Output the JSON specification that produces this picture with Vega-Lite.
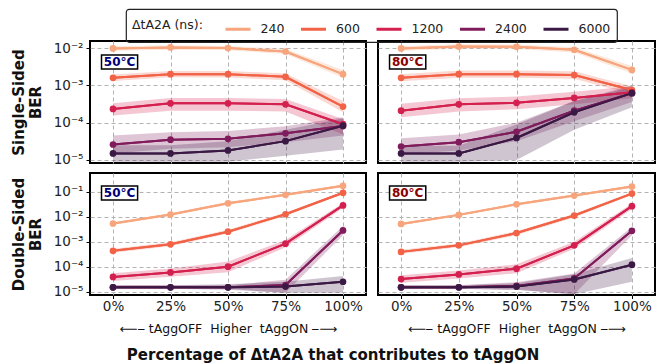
{
  "$schema": "https://vega.github.io/schema/vega-lite/v6.json",
  "padding": {"left": 10, "top": 8, "right": 2, "bottom": 2},
  "config": {
    "font": "DejaVu Sans",
    "view": {"stroke": "black", "strokeWidth": 2},
    "axis": {"domain": false, "gridDash": [4, 3], "gridColor": "#b3b3b3", "gridWidth": 1, "tickColor": "black", "labelFont": "DejaVu Sans", "labelFontSize": 13.5, "labelColor": "#222", "titleFont": "DejaVu Sans", "titleColor": "#111"},
    "legend": {"orient": "none", "legendX": 36, "legendY": -32, "direction": "horizontal", "titleOrient": "left", "strokeColor": "#222", "strokeWidth": 1.2, "cornerRadius": 3, "padding": 6, "symbolType": "stroke", "symbolStrokeWidth": 3, "symbolSize": 625, "symbolOpacity": 1, "labelFontSize": 12.5, "titleFontSize": 12.5, "titleFontWeight": "normal", "titleFont": "DejaVu Sans", "labelFont": "DejaVu Sans", "columnPadding": 9.5, "titlePadding": 21, "labelColor": "#222", "titleColor": "#222", "labelOffset": 8.5}
  },
  "title": {"text": "Percentage of ΔtA2A that contributes to tAggON", "orient": "bottom", "fontSize": 15, "fontWeight": "bold", "font": "DejaVu Sans", "offset": 12, "anchor": "middle", "color": "#111"},
  "data": {"values": [
    {"panel":"S50","pct":0,"dta2a":240,"ber":0.0098,"lo":0.0085,"hi":0.0112},
    {"panel":"S50","pct":25,"dta2a":240,"ber":0.0104,"lo":0.0091,"hi":0.0119},
    {"panel":"S50","pct":50,"dta2a":240,"ber":0.0100,"lo":0.0088,"hi":0.0114},
    {"panel":"S50","pct":75,"dta2a":240,"ber":0.0081,"lo":0.0069,"hi":0.0095},
    {"panel":"S50","pct":100,"dta2a":240,"ber":0.0020,"lo":0.0016,"hi":0.0026},
    {"panel":"S50","pct":0,"dta2a":600,"ber":0.0016,"lo":0.00132,"hi":0.00196},
    {"panel":"S50","pct":25,"dta2a":600,"ber":0.0020,"lo":0.00165,"hi":0.00245},
    {"panel":"S50","pct":50,"dta2a":600,"ber":0.0020,"lo":0.00163,"hi":0.00242},
    {"panel":"S50","pct":75,"dta2a":600,"ber":0.0017,"lo":0.00137,"hi":0.0021},
    {"panel":"S50","pct":100,"dta2a":600,"ber":0.00027,"lo":0.00019,"hi":0.00038},
    {"panel":"S50","pct":0,"dta2a":1200,"ber":0.000234,"lo":0.000155,"hi":0.00033},
    {"panel":"S50","pct":25,"dta2a":1200,"ber":0.00033,"lo":0.00021,"hi":0.00046},
    {"panel":"S50","pct":50,"dta2a":1200,"ber":0.00033,"lo":0.00021,"hi":0.00046},
    {"panel":"S50","pct":75,"dta2a":1200,"ber":0.00031,"lo":0.0002,"hi":0.00043},
    {"panel":"S50","pct":100,"dta2a":1200,"ber":0.000091,"lo":0.000048,"hi":0.000125},
    {"panel":"S50","pct":0,"dta2a":2400,"ber":0.000026,"lo":0.000015,"hi":0.000045},
    {"panel":"S50","pct":25,"dta2a":2400,"ber":0.000035,"lo":0.00002,"hi":0.000055},
    {"panel":"S50","pct":50,"dta2a":2400,"ber":0.000037,"lo":0.000022,"hi":0.00006},
    {"panel":"S50","pct":75,"dta2a":2400,"ber":0.000052,"lo":0.00003,"hi":0.00008},
    {"panel":"S50","pct":100,"dta2a":2400,"ber":0.000081,"lo":0.000045,"hi":0.00014},
    {"panel":"S50","pct":0,"dta2a":6000,"ber":0.000015,"lo":0.000009,"hi":0.000025},
    {"panel":"S50","pct":25,"dta2a":6000,"ber":0.000015,"lo":0.000009,"hi":0.000025},
    {"panel":"S50","pct":50,"dta2a":6000,"ber":0.000018,"lo":0.000009,"hi":0.000032},
    {"panel":"S50","pct":75,"dta2a":6000,"ber":0.000032,"lo":0.000013,"hi":0.000065},
    {"panel":"S50","pct":100,"dta2a":6000,"ber":0.000083,"lo":0.000019,"hi":0.00013},

    {"panel":"S80","pct":0,"dta2a":240,"ber":0.0098,"lo":0.0085,"hi":0.0113},
    {"panel":"S80","pct":25,"dta2a":240,"ber":0.011,"lo":0.0096,"hi":0.0126},
    {"panel":"S80","pct":50,"dta2a":240,"ber":0.0108,"lo":0.0094,"hi":0.0124},
    {"panel":"S80","pct":75,"dta2a":240,"ber":0.009,"lo":0.0076,"hi":0.0106},
    {"panel":"S80","pct":100,"dta2a":240,"ber":0.0026,"lo":0.0021,"hi":0.0033},
    {"panel":"S80","pct":0,"dta2a":600,"ber":0.0016,"lo":0.0013,"hi":0.002},
    {"panel":"S80","pct":25,"dta2a":600,"ber":0.002,"lo":0.0016,"hi":0.0025},
    {"panel":"S80","pct":50,"dta2a":600,"ber":0.002,"lo":0.0016,"hi":0.0025},
    {"panel":"S80","pct":75,"dta2a":600,"ber":0.0019,"lo":0.0015,"hi":0.0024},
    {"panel":"S80","pct":100,"dta2a":600,"ber":0.00075,"lo":0.00058,"hi":0.00095},
    {"panel":"S80","pct":0,"dta2a":1200,"ber":0.00021,"lo":0.00014,"hi":0.00032},
    {"panel":"S80","pct":25,"dta2a":1200,"ber":0.00031,"lo":0.0002,"hi":0.00045},
    {"panel":"S80","pct":50,"dta2a":1200,"ber":0.00034,"lo":0.00023,"hi":0.0005},
    {"panel":"S80","pct":75,"dta2a":1200,"ber":0.00046,"lo":0.00031,"hi":0.00068},
    {"panel":"S80","pct":100,"dta2a":1200,"ber":0.00065,"lo":0.00045,"hi":0.00095},
    {"panel":"S80","pct":0,"dta2a":2400,"ber":0.000023,"lo":0.000014,"hi":0.000038},
    {"panel":"S80","pct":25,"dta2a":2400,"ber":0.00003,"lo":0.000018,"hi":0.000048},
    {"panel":"S80","pct":50,"dta2a":2400,"ber":0.000057,"lo":0.000032,"hi":0.0001},
    {"panel":"S80","pct":75,"dta2a":2400,"ber":0.00021,"lo":0.00011,"hi":0.00038},
    {"panel":"S80","pct":100,"dta2a":2400,"ber":0.00062,"lo":0.00036,"hi":0.001},
    {"panel":"S80","pct":0,"dta2a":6000,"ber":0.000015,"lo":0.000009,"hi":0.000024},
    {"panel":"S80","pct":25,"dta2a":6000,"ber":0.000015,"lo":0.000009,"hi":0.000024},
    {"panel":"S80","pct":50,"dta2a":6000,"ber":0.000039,"lo":0.00001,"hi":0.00009},
    {"panel":"S80","pct":75,"dta2a":6000,"ber":0.00019,"lo":0.000065,"hi":0.00038},
    {"panel":"S80","pct":100,"dta2a":6000,"ber":0.00062,"lo":0.00026,"hi":0.0009},

    {"panel":"D50","pct":0,"dta2a":240,"ber":0.0053,"lo":0.0046,"hi":0.006},
    {"panel":"D50","pct":25,"dta2a":240,"ber":0.012,"lo":0.0105,"hi":0.0137},
    {"panel":"D50","pct":50,"dta2a":240,"ber":0.034,"lo":0.03,"hi":0.039},
    {"panel":"D50","pct":75,"dta2a":240,"ber":0.074,"lo":0.065,"hi":0.084},
    {"panel":"D50","pct":100,"dta2a":240,"ber":0.17,"lo":0.15,"hi":0.19},
    {"panel":"D50","pct":0,"dta2a":600,"ber":0.00043,"lo":0.00036,"hi":0.00052},
    {"panel":"D50","pct":25,"dta2a":600,"ber":0.00078,"lo":0.00065,"hi":0.00094},
    {"panel":"D50","pct":50,"dta2a":600,"ber":0.0025,"lo":0.0021,"hi":0.003},
    {"panel":"D50","pct":75,"dta2a":600,"ber":0.0124,"lo":0.0105,"hi":0.0146},
    {"panel":"D50","pct":100,"dta2a":600,"ber":0.089,"lo":0.078,"hi":0.1},
    {"panel":"D50","pct":0,"dta2a":1200,"ber":0.000039,"lo":0.000027,"hi":0.000055},
    {"panel":"D50","pct":25,"dta2a":1200,"ber":0.000059,"lo":0.00004,"hi":0.000085},
    {"panel":"D50","pct":50,"dta2a":1200,"ber":0.0001,"lo":0.00006,"hi":0.00016},
    {"panel":"D50","pct":75,"dta2a":1200,"ber":0.00083,"lo":0.0006,"hi":0.00115},
    {"panel":"D50","pct":100,"dta2a":1200,"ber":0.028,"lo":0.022,"hi":0.035},
    {"panel":"D50","pct":0,"dta2a":2400,"ber":0.000015,"lo":0.000013,"hi":0.000018},
    {"panel":"D50","pct":25,"dta2a":2400,"ber":0.000015,"lo":0.000013,"hi":0.000018},
    {"panel":"D50","pct":50,"dta2a":2400,"ber":0.000015,"lo":0.000013,"hi":0.000018},
    {"panel":"D50","pct":75,"dta2a":2400,"ber":0.0000185,"lo":0.000009,"hi":0.00003},
    {"panel":"D50","pct":100,"dta2a":2400,"ber":0.0028,"lo":0.0018,"hi":0.0042},
    {"panel":"D50","pct":0,"dta2a":6000,"ber":0.000015,"lo":0.000013,"hi":0.000018},
    {"panel":"D50","pct":25,"dta2a":6000,"ber":0.000015,"lo":0.000013,"hi":0.000018},
    {"panel":"D50","pct":50,"dta2a":6000,"ber":0.000015,"lo":0.000012,"hi":0.00002},
    {"panel":"D50","pct":75,"dta2a":6000,"ber":0.000016,"lo":0.000009,"hi":0.000025},
    {"panel":"D50","pct":100,"dta2a":6000,"ber":0.000025,"lo":0.000009,"hi":0.000042},

    {"panel":"D80","pct":0,"dta2a":240,"ber":0.0051,"lo":0.0044,"hi":0.0058},
    {"panel":"D80","pct":25,"dta2a":240,"ber":0.0117,"lo":0.0102,"hi":0.0133},
    {"panel":"D80","pct":50,"dta2a":240,"ber":0.031,"lo":0.027,"hi":0.035},
    {"panel":"D80","pct":75,"dta2a":240,"ber":0.069,"lo":0.061,"hi":0.078},
    {"panel":"D80","pct":100,"dta2a":240,"ber":0.158,"lo":0.14,"hi":0.178},
    {"panel":"D80","pct":0,"dta2a":600,"ber":0.00039,"lo":0.00033,"hi":0.00047},
    {"panel":"D80","pct":25,"dta2a":600,"ber":0.00071,"lo":0.0006,"hi":0.00085},
    {"panel":"D80","pct":50,"dta2a":600,"ber":0.0022,"lo":0.0018,"hi":0.0026},
    {"panel":"D80","pct":75,"dta2a":600,"ber":0.011,"lo":0.0093,"hi":0.013},
    {"panel":"D80","pct":100,"dta2a":600,"ber":0.083,"lo":0.072,"hi":0.095},
    {"panel":"D80","pct":0,"dta2a":1200,"ber":0.000032,"lo":0.000023,"hi":0.000045},
    {"panel":"D80","pct":25,"dta2a":1200,"ber":0.000049,"lo":0.000034,"hi":0.00007},
    {"panel":"D80","pct":50,"dta2a":1200,"ber":0.000083,"lo":0.000055,"hi":0.000125},
    {"panel":"D80","pct":75,"dta2a":1200,"ber":0.00071,"lo":0.00052,"hi":0.00098},
    {"panel":"D80","pct":100,"dta2a":1200,"ber":0.026,"lo":0.02,"hi":0.033},
    {"panel":"D80","pct":0,"dta2a":2400,"ber":0.000015,"lo":0.000013,"hi":0.000018},
    {"panel":"D80","pct":25,"dta2a":2400,"ber":0.000015,"lo":0.000013,"hi":0.000018},
    {"panel":"D80","pct":50,"dta2a":2400,"ber":0.000017,"lo":0.000012,"hi":0.000024},
    {"panel":"D80","pct":75,"dta2a":2400,"ber":0.000034,"lo":0.000008,"hi":0.000054},
    {"panel":"D80","pct":100,"dta2a":2400,"ber":0.0027,"lo":0.0018,"hi":0.0038},
    {"panel":"D80","pct":0,"dta2a":6000,"ber":0.000015,"lo":0.000013,"hi":0.000018},
    {"panel":"D80","pct":25,"dta2a":6000,"ber":0.000015,"lo":0.000013,"hi":0.000018},
    {"panel":"D80","pct":50,"dta2a":6000,"ber":0.000016,"lo":0.000012,"hi":0.000022},
    {"panel":"D80","pct":75,"dta2a":6000,"ber":0.000031,"lo":0.000008,"hi":0.00005},
    {"panel":"D80","pct":100,"dta2a":6000,"ber":0.00012,"lo":0.000025,"hi":0.00022}
  ]},
  "vconcat": [
    {"hconcat": [
      {"width": 276, "height": 122,
       "transform": [{"filter": "datum.panel == 'S50'"}],
       "layer": [
         {"mark": {"type": "line", "strokeWidth": 2, "clip": true},
          "encoding": {"x": {"field": "pct", "type": "quantitative", "scale": {"domain": [-10, 110], "nice": false, "zero": false}, "axis": {"values": [0, 25, 50, 75, 100], "labels": false, "ticks": false, "title": null, "grid": true, "minExtent": 0, "maxExtent": 0, "labelPadding": 0}},
            "y": {"field": "ber", "type": "quantitative", "scale": {"type": "log", "domain": [0.0000083, 0.0155], "nice": false}, "axis": {"values": [0.00001, 0.0001, 0.001, 0.01], "labelExpr": "'10' + ['⁰','⁻¹','⁻²','⁻³','⁻⁴','⁻⁵'][round(-log(datum.value)/LN10)]", "title": ["Single-Sided", "BER"], "titleFontSize": 15, "titleFontWeight": "bold", "titlePadding": 10, "tickSize": 4, "labelPadding": 3, "grid": true}},
            "color": {"field": "dta2a", "type": "nominal", "title": "\u00a0ΔtA2A (ns):", "scale": {"domain": [240, 600, 1200, 2400, 6000], "range": ["#f7a57d", "#f16247", "#d4204f", "#811c5c", "#3b1945"]}}}},
         {"mark": {"type": "area", "opacity": 0.25, "clip": true},
          "encoding": {"x": {"field": "pct", "type": "quantitative"},
            "y": {"field": "lo", "type": "quantitative"},
            "y2": {"field": "hi"},
            "color": {"field": "dta2a", "type": "nominal", "title": "\u00a0ΔtA2A (ns):"}}},
         {"mark": {"type": "line", "strokeWidth": 2, "clip": true},
          "encoding": {"x": {"field": "pct", "type": "quantitative"}, "y": {"field": "ber", "type": "quantitative"},
            "color": {"field": "dta2a", "type": "nominal", "title": "\u00a0ΔtA2A (ns):"}}},
         {"mark": {"type": "point", "filled": true, "size": 45, "opacity": 1, "clip": true},
          "encoding": {"x": {"field": "pct", "type": "quantitative"}, "y": {"field": "ber", "type": "quantitative"},
            "color": {"field": "dta2a", "type": "nominal", "title": "\u00a0ΔtA2A (ns):"}}},
         {"data": {"values": [{"label": "50°C"}]},
          "mark": {"type": "rect", "fill": "white", "stroke": "black", "strokeWidth": 1.5},
          "encoding": {"x": {"datum": -5}, "x2": {"datum": 10.7}, "y": {"datum": 0.00653}, "y2": {"datum": 0.00275}}},
         {"data": {"values": [{"label": "50°C"}]},
          "mark": {"type": "text", "fontWeight": "bold", "fontSize": 12, "color": "#00007a", "align": "center", "baseline": "middle"},
          "encoding": {"x": {"datum": 2.85}, "y": {"datum": 0.00424}, "text": {"field": "label"}}}
       ]},
      {"width": 277, "height": 122,
       "transform": [{"filter": "datum.panel == 'S80'"}],
       "layer": [
         {"mark": {"type": "line", "strokeWidth": 2, "clip": true},
          "encoding": {"x": {"field": "pct", "type": "quantitative", "scale": {"domain": [-10, 110], "nice": false, "zero": false}, "axis": {"values": [0, 25, 50, 75, 100], "labels": false, "ticks": false, "title": null, "grid": true, "minExtent": 0, "maxExtent": 0, "labelPadding": 0}},
            "y": {"field": "ber", "type": "quantitative", "scale": {"type": "log", "domain": [0.0000083, 0.0155], "nice": false}, "axis": {"values": [0.00001, 0.0001, 0.001, 0.01], "labels": false, "ticks": false, "title": null, "grid": true, "minExtent": 0, "maxExtent": 0}},
            "color": {"field": "dta2a", "type": "nominal", "title": "\u00a0ΔtA2A (ns):"}}},
         {"mark": {"type": "area", "opacity": 0.25, "clip": true},
          "encoding": {"x": {"field": "pct", "type": "quantitative"},
            "y": {"field": "lo", "type": "quantitative"},
            "y2": {"field": "hi"},
            "color": {"field": "dta2a", "type": "nominal", "title": "\u00a0ΔtA2A (ns):"}}},
         {"mark": {"type": "line", "strokeWidth": 2, "clip": true},
          "encoding": {"x": {"field": "pct", "type": "quantitative"}, "y": {"field": "ber", "type": "quantitative"},
            "color": {"field": "dta2a", "type": "nominal", "title": "\u00a0ΔtA2A (ns):"}}},
         {"mark": {"type": "point", "filled": true, "size": 45, "opacity": 1, "clip": true},
          "encoding": {"x": {"field": "pct", "type": "quantitative"}, "y": {"field": "ber", "type": "quantitative"},
            "color": {"field": "dta2a", "type": "nominal", "title": "\u00a0ΔtA2A (ns):"}}},
         {"data": {"values": [{"label": "80°C"}]},
          "mark": {"type": "rect", "fill": "white", "stroke": "black", "strokeWidth": 1.5},
          "encoding": {"x": {"datum": -5}, "x2": {"datum": 10.7}, "y": {"datum": 0.00653}, "y2": {"datum": 0.00275}}},
         {"data": {"values": [{"label": "80°C"}]},
          "mark": {"type": "text", "fontWeight": "bold", "fontSize": 12, "color": "#8b0000", "align": "center", "baseline": "middle"},
          "encoding": {"x": {"datum": 2.85}, "y": {"datum": 0.00424}, "text": {"field": "label"}}}
       ]}
    ], "spacing": 10},
    {"hconcat": [
      {"width": 276, "height": 122,
       "transform": [{"filter": "datum.panel == 'D50'"}],
       "layer": [
         {"mark": {"type": "line", "strokeWidth": 2, "clip": true},
          "encoding": {"x": {"field": "pct", "type": "quantitative", "scale": {"domain": [-10, 110], "nice": false, "zero": false}, "axis": {"values": [0, 25, 50, 75, 100], "labelExpr": "datum.value + '%'", "title": "⟵⎯  tAggOFF \u00a0Higher \u00a0tAggON  ⎯⟶", "titleFontSize": 12.5, "titleFontWeight": "normal", "titlePadding": 9, "tickSize": 3.5, "labelPadding": 1, "grid": true}},
            "y": {"field": "ber", "type": "quantitative", "scale": {"type": "log", "domain": [0.0000074, 0.55], "nice": false}, "axis": {"values": [0.00001, 0.0001, 0.001, 0.01, 0.1], "labelExpr": "'10' + ['⁰','⁻¹','⁻²','⁻³','⁻⁴','⁻⁵'][round(-log(datum.value)/LN10)]", "title": ["Double-Sided", "BER"], "titleFontSize": 15, "titleFontWeight": "bold", "titlePadding": 10, "tickSize": 4, "labelPadding": 3, "grid": true}},
            "color": {"field": "dta2a", "type": "nominal", "title": "\u00a0ΔtA2A (ns):"}}},
         {"mark": {"type": "area", "opacity": 0.25, "clip": true},
          "encoding": {"x": {"field": "pct", "type": "quantitative"},
            "y": {"field": "lo", "type": "quantitative"},
            "y2": {"field": "hi"},
            "color": {"field": "dta2a", "type": "nominal", "title": "\u00a0ΔtA2A (ns):"}}},
         {"mark": {"type": "line", "strokeWidth": 2, "clip": true},
          "encoding": {"x": {"field": "pct", "type": "quantitative"}, "y": {"field": "ber", "type": "quantitative"},
            "color": {"field": "dta2a", "type": "nominal", "title": "\u00a0ΔtA2A (ns):"}}},
         {"mark": {"type": "point", "filled": true, "size": 45, "opacity": 1, "clip": true},
          "encoding": {"x": {"field": "pct", "type": "quantitative"}, "y": {"field": "ber", "type": "quantitative"},
            "color": {"field": "dta2a", "type": "nominal", "title": "\u00a0ΔtA2A (ns):"}}},
         {"data": {"values": [{"label": "50°C"}]},
          "mark": {"type": "rect", "fill": "white", "stroke": "black", "strokeWidth": 1.5},
          "encoding": {"x": {"datum": -5}, "x2": {"datum": 10.7}, "y": {"datum": 0.166}, "y2": {"datum": 0.0459}}},
         {"data": {"values": [{"label": "50°C"}]},
          "mark": {"type": "text", "fontWeight": "bold", "fontSize": 12, "color": "#00007a", "align": "center", "baseline": "middle"},
          "encoding": {"x": {"datum": 2.85}, "y": {"datum": 0.0875}, "text": {"field": "label"}}}
       ]},
      {"width": 277, "height": 122,
       "transform": [{"filter": "datum.panel == 'D80'"}],
       "layer": [
         {"mark": {"type": "line", "strokeWidth": 2, "clip": true},
          "encoding": {"x": {"field": "pct", "type": "quantitative", "scale": {"domain": [-10, 110], "nice": false, "zero": false}, "axis": {"values": [0, 25, 50, 75, 100], "labelExpr": "datum.value + '%'", "title": "⟵⎯  tAggOFF \u00a0Higher \u00a0tAggON  ⎯⟶", "titleFontSize": 12.5, "titleFontWeight": "normal", "titlePadding": 9, "tickSize": 3.5, "labelPadding": 1, "grid": true}},
            "y": {"field": "ber", "type": "quantitative", "scale": {"type": "log", "domain": [0.0000074, 0.55], "nice": false}, "axis": {"values": [0.00001, 0.0001, 0.001, 0.01, 0.1], "labels": false, "ticks": false, "title": null, "grid": true, "minExtent": 0, "maxExtent": 0}},
            "color": {"field": "dta2a", "type": "nominal", "title": "\u00a0ΔtA2A (ns):"}}},
         {"mark": {"type": "area", "opacity": 0.25, "clip": true},
          "encoding": {"x": {"field": "pct", "type": "quantitative"},
            "y": {"field": "lo", "type": "quantitative"},
            "y2": {"field": "hi"},
            "color": {"field": "dta2a", "type": "nominal", "title": "\u00a0ΔtA2A (ns):"}}},
         {"mark": {"type": "line", "strokeWidth": 2, "clip": true},
          "encoding": {"x": {"field": "pct", "type": "quantitative"}, "y": {"field": "ber", "type": "quantitative"},
            "color": {"field": "dta2a", "type": "nominal", "title": "\u00a0ΔtA2A (ns):"}}},
         {"mark": {"type": "point", "filled": true, "size": 45, "opacity": 1, "clip": true},
          "encoding": {"x": {"field": "pct", "type": "quantitative"}, "y": {"field": "ber", "type": "quantitative"},
            "color": {"field": "dta2a", "type": "nominal", "title": "\u00a0ΔtA2A (ns):"}}},
         {"data": {"values": [{"label": "80°C"}]},
          "mark": {"type": "rect", "fill": "white", "stroke": "black", "strokeWidth": 1.5},
          "encoding": {"x": {"datum": -5}, "x2": {"datum": 10.7}, "y": {"datum": 0.166}, "y2": {"datum": 0.0459}}},
         {"data": {"values": [{"label": "80°C"}]},
          "mark": {"type": "text", "fontWeight": "bold", "fontSize": 12, "color": "#8b0000", "align": "center", "baseline": "middle"},
          "encoding": {"x": {"datum": 2.85}, "y": {"datum": 0.0875}, "text": {"field": "label"}}}
       ]}
    ], "spacing": 10}
  ],
  "spacing": 4
}
